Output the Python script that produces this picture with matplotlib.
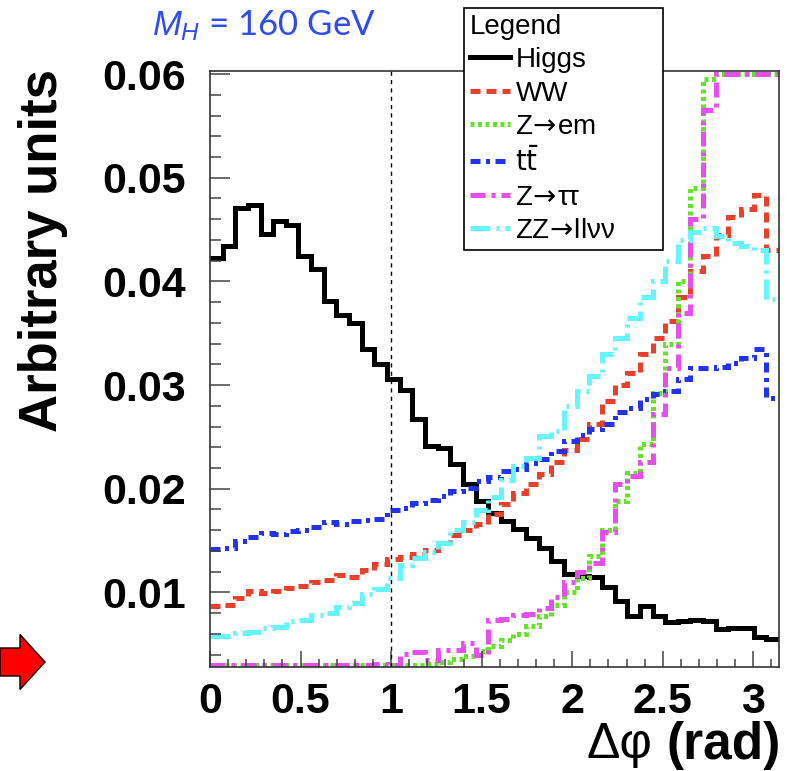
import numpy as np
import matplotlib
matplotlib.use('Agg')
import matplotlib.pyplot as plt
from matplotlib.lines import Line2D
from matplotlib.patches import FancyArrow
from matplotlib.ticker import MultipleLocator

plt.rcParams['mathtext.fontset'] = 'custom'
plt.rcParams['mathtext.rm'] = 'Liberation Sans'
plt.rcParams['mathtext.it'] = 'Liberation Sans:italic'

# 45 bins in delta phi, 0..pi
edges = np.linspace(0, np.pi, 46)

higgs = [0.0423, 0.0434, 0.0471, 0.0474, 0.0446, 0.0458, 0.0454, 0.0425, 0.0412,
         0.0381, 0.0368, 0.0360, 0.0335, 0.0320, 0.0306, 0.0295, 0.0267, 0.0241,
         0.0239, 0.0224, 0.0205, 0.0188, 0.0177, 0.0169, 0.0161, 0.0152, 0.0143,
         0.0130, 0.0118, 0.0116, 0.01145, 0.0105, 0.0092, 0.00775, 0.0087, 0.00775,
         0.0071, 0.0072, 0.0073, 0.0072, 0.0065, 0.0066, 0.0066, 0.0057, 0.0055]
ww = [0.0087, 0.0088, 0.0095, 0.0101, 0.0099, 0.0101, 0.0104, 0.0106, 0.0110,
      0.0112, 0.0117, 0.0115, 0.0122, 0.0127, 0.0132, 0.0134, 0.0137, 0.0141,
      0.0148, 0.0155, 0.0160, 0.0166, 0.0176, 0.0185, 0.0196, 0.0205, 0.0214,
      0.0226, 0.0237, 0.0248, 0.0262, 0.0285, 0.0300, 0.0312, 0.0330, 0.0345,
      0.0362, 0.0385, 0.0410, 0.0425, 0.0445, 0.0462, 0.0470, 0.0483, 0.0430]
zem = [0.0018, 0.0019, 0.0018, 0.0020, 0.0019, 0.0021, 0.0020, 0.0022, 0.0021,
       0.0023, 0.0022, 0.0024, 0.0025, 0.0026, 0.0027, 0.0028, 0.0029, 0.0031,
       0.0033, 0.0036, 0.0039, 0.0043, 0.0048, 0.0054, 0.0060, 0.0068, 0.0077,
       0.0088, 0.0100, 0.0114, 0.0135, 0.0160, 0.0188, 0.0215, 0.0243, 0.0292,
       0.0340, 0.0400, 0.0490, 0.0595, 0.0700, 0.0790, 0.0840, 0.0860, 0.0810]
ttbar = [0.0142, 0.0143, 0.0150, 0.0153, 0.0157, 0.0156, 0.0159, 0.0160, 0.0163,
         0.0168, 0.0166, 0.0169, 0.0170, 0.0171, 0.0179, 0.0181, 0.0186, 0.0189,
         0.0193, 0.0198, 0.0201, 0.0207, 0.0211, 0.0217, 0.0219, 0.0225, 0.0229,
         0.0236, 0.0246, 0.0252, 0.0258, 0.0262, 0.0274, 0.0278, 0.0287, 0.0291,
         0.0294, 0.0306, 0.0316, 0.0316, 0.0317, 0.0321, 0.0326, 0.0335, 0.0288]
ztautau = [0.0020, 0.0021, 0.0020, 0.0022, 0.0021, 0.0022, 0.0023, 0.0022, 0.0024,
           0.0025, 0.0024, 0.0026, 0.0027, 0.0031, 0.0029, 0.0041, 0.0042, 0.0035,
           0.0044, 0.0044, 0.0051, 0.0040, 0.0073, 0.0074, 0.0078, 0.0079, 0.0085,
           0.0096, 0.0110, 0.0120, 0.0128, 0.0158, 0.0205, 0.0212, 0.0226, 0.0272,
           0.0316, 0.0370, 0.0460, 0.0565, 0.0680, 0.0760, 0.0820, 0.0850, 0.0800]
zz = [0.0058, 0.0058, 0.0061, 0.0062, 0.0066, 0.0067, 0.0072, 0.0073, 0.0078,
      0.0080, 0.0086, 0.0090, 0.0098, 0.0103, 0.0114, 0.0126, 0.0133, 0.0139,
      0.0148, 0.0160, 0.0168, 0.0179, 0.0192, 0.0208, 0.0222, 0.0230, 0.0251,
      0.0256, 0.0280, 0.0294, 0.0309, 0.0330, 0.0345, 0.0365, 0.0385, 0.0400,
      0.0420, 0.0440, 0.0448, 0.0452, 0.0444, 0.0437, 0.0434, 0.0430, 0.0383]

labels = ['Higgs', 'WW', r'Z$\!\rightarrow\!$em', r'$\mathrm{t\bar{t}}$',
          'Z$\\!\\rightarrow\\!$\u03c4\u03c4', 'ZZ$\\!\\rightarrow\\!$ll\u03bd\u03bd']
colors = ['black', '#e8402a', '#66e22a', '#2233ee', '#e64ef0', '#66f5f8']
styles = ['-', (0, (2, 1.2)), (0, (0.8, 0.7)), (0, (2, 1.1, 0.8, 1.1)),
          (0, (3, 1.2, 0.8, 1.2)), (0, (4, 1.2, 0.6, 1.2))]
series = [higgs, ww, zem, ttbar, ztautau, zz]

ymin, ymax = 0.0028, 0.0603

fig = plt.figure(figsize=(7.87, 7.71), dpi=100)
ax = fig.add_axes([0.2668, 0.1349, 0.7230, 0.7730])

for vals, col, ls in zip(series, colors, styles):
    # out-of-range bins are drawn on the frame, as ROOT does
    ax.stairs(np.clip(vals, 0.0030, 0.0600), edges, baseline=None,
              color=col, lw=3.6, linestyle=ls)

ax.axvline(1.0, color='black', lw=1.0, linestyle=(0, (3, 3)))

ax.set_xlim(0, np.pi)
ax.set_ylim(ymin, ymax)
ax.xaxis.set_major_locator(MultipleLocator(0.5))
ax.xaxis.set_minor_locator(MultipleLocator(0.1))
ax.yaxis.set_major_locator(MultipleLocator(0.01))
ax.yaxis.set_minor_locator(MultipleLocator(0.002))
ax.xaxis.set_major_formatter(plt.FuncFormatter(lambda v, p: '%g' % v))
ax.yaxis.set_major_formatter(plt.FuncFormatter(lambda v, p: '%.2f' % v))

tickfont = dict(family='Liberation Sans', weight='bold', size=31)
ax.tick_params(which='both', direction='in', top=False, right=False,
               color='#444444', width=1.1)
ax.tick_params(axis='x', which='major', length=11.5, pad=11)
ax.tick_params(axis='x', which='minor', length=6)
ax.tick_params(axis='y', which='major', length=14.5, pad=17)
ax.tick_params(axis='y', which='minor', length=8)
for lab in ax.get_xticklabels() + ax.get_yticklabels():
    lab.set_fontproperties(tickfont)
for s in ax.spines.values():
    s.set_linewidth(1.2)
    s.set_color('#333333')

fig.text(43 / 787, 1 - 251 / 771, 'Arbitrary units', rotation=90,
         ha='center', va='center', family='Liberation Sans', weight='bold', size=38)
fig.text(781 / 787, 1 - 745 / 771, '(rad)', ha='right', va='center',
         family='Liberation Sans', weight='bold', size=37)
fig.text(652 / 787, 1 - 745 / 771, '\u0394\u03c6', ha='right', va='center',
         family='Liberation Sans', size=36)

fig.text(264 / 787, 1 - 26 / 771, r'$M_H$ = 160 GeV', ha='center', va='center',
         family='Lato', size=25, color='#2f4cf0')

handles = [Line2D([], [], color=c, lw=3.6, linestyle=ls) for c, ls in zip(colors, styles)]
leg = fig.legend(handles, labels, loc='upper left',
                 bbox_to_anchor=(464 / 787, 1 - 8 / 771, 199 / 787, 0.0),
                 mode='expand', borderaxespad=0, title='Legend', alignment='left',
                 prop=dict(family=['Liberation Sans', 'DejaVu Sans'], size=20,
                           math_fontfamily='dejavusans'),
                 title_fontproperties=dict(family='Liberation Sans', size=20),
                 frameon=True, fancybox=False, framealpha=1, edgecolor='black',
                 handlelength=1.45, handletextpad=0.2, labelspacing=0.27,
                 borderpad=0.2)
leg.get_frame().set_linewidth(1.2)

arrow = FancyArrow(0.0, 1.09, 0.45, 0.0, width=0.28, head_width=0.55,
                   head_length=0.25, length_includes_head=True,
                   transform=fig.dpi_scale_trans, fc='#ff0000', ec='black', lw=1)
fig.add_artist(arrow)

fig.savefig('out.png', dpi=100)
